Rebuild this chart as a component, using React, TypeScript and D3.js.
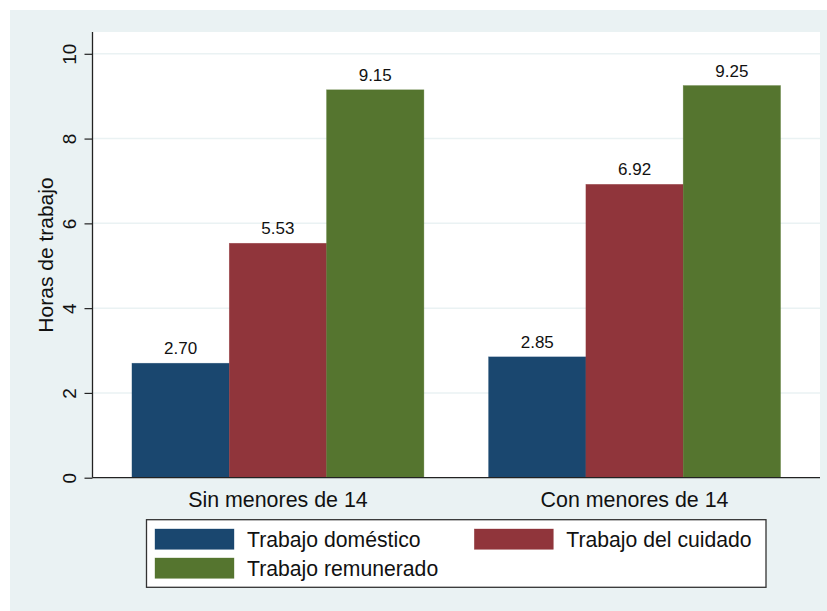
import React, { useRef, useEffect } from 'react';
import { select, scaleBand, scaleLinear, axisLeft } from 'd3';

const groups = ['Sin menores de 14', 'Con menores de 14'];
const seriesKeys = ['Trabajo doméstico', 'Trabajo del cuidado', 'Trabajo remunerado'];
const domestico = [2.7, 2.85];
const cuidado = [5.53, 6.92];
const remunerado = [9.15, 9.25];
const yTicks = [0, 2, 4, 6, 8, 10];
const colors = ['#1a476f', '#90353b', '#55752f'];

const W = 827;
const H = 611;
const FONT = 'Liberation Sans, Arial, sans-serif';

const App = () => {
  const svgRef = useRef<SVGSVGElement>(null);

  useEffect(() => {
    const svg = select(svgRef.current);
    svg.selectAll('*').remove();

    const left = 92.5;
    const right = 820;
    const top = 32;
    const bottom = 477.7;

    const values = [domestico, cuidado, remunerado];
    const rows = groups.map((g, i) => ({
      group: g,
      bars: seriesKeys.map((k, j) => ({ key: k, value: values[j][i], color: colors[j] }))
    }));

    const x0 = scaleBand()
      .domain(groups)
      .range([left, right])
      .paddingInner(0.1815)
      .paddingOuter(0.1107);
    const x1 = scaleBand().domain(seriesKeys).range([0, x0.bandwidth()]);
    const y = scaleLinear().domain([0, 10]).range([bottom, 53.8]);

    // backgrounds
    svg.append('rect').attr('x', 10).attr('y', 10).attr('width', W - 10).attr('height', H - 10)
      .attr('fill', '#eaf2f3');
    svg.append('rect').attr('x', left).attr('y', top).attr('width', right - left)
      .attr('height', bottom - top).attr('fill', '#ffffff');

    // grid
    svg.append('g')
      .selectAll('line')
      .data(yTicks.filter(t => t > 0))
      .join('line')
      .attr('x1', left)
      .attr('x2', right)
      .attr('y1', d => y(d))
      .attr('y2', d => y(d))
      .attr('stroke', '#eaf2f3')
      .attr('stroke-width', 1.5);

    // bars
    const g = svg.append('g')
      .selectAll('g')
      .data(rows)
      .join('g')
      .attr('transform', d => `translate(${x0(d.group)},0)`);

    g.selectAll('rect')
      .data(d => d.bars)
      .join('rect')
      .attr('x', d => x1(d.key))
      .attr('width', x1.bandwidth())
      .attr('y', d => y(d.value))
      .attr('height', d => y(0) - y(d.value))
      .attr('fill', d => d.color)
      .attr('stroke', d => d.color)
      .attr('stroke-opacity', 0.6)
      .attr('stroke-width', 0.6);

    g.selectAll('text')
      .data(d => d.bars)
      .join('text')
      .attr('x', d => x1(d.key) + x1.bandwidth() / 2)
      .attr('y', d => y(d.value) - 9)
      .attr('text-anchor', 'middle')
      .attr('font-family', FONT)
      .attr('font-size', 17)
      .attr('fill', '#111')
      .text(d => d.value.toFixed(2));

    // y axis
    const yAxis = axisLeft(y).tickValues(yTicks).tickSize(8).tickFormat(d => String(d));
    const ya = svg.append('g').attr('transform', `translate(${left},0)`).call(yAxis);
    ya.select('.domain').remove();
    ya.selectAll('.tick line').attr('stroke', '#222').attr('stroke-width', 1.2);
    ya.selectAll('.tick text')
      .attr('x', 0)
      .attr('dy', 0)
      .attr('y', 0)
      .attr('transform', 'translate(-17,0) rotate(-90)')
      .attr('text-anchor', 'middle')
      .attr('font-family', FONT)
      .attr('font-size', 19)
      .attr('fill', '#111');
    svg.append('line').attr('x1', left).attr('x2', left).attr('y1', top).attr('y2', bottom)
      .attr('stroke', '#222').attr('stroke-width', 1.3);

    // x axis line
    svg.append('line').attr('x1', left).attr('x2', right).attr('y1', bottom).attr('y2', bottom)
      .attr('stroke', '#222').attr('stroke-width', 1.3);

    svg.append('g')
      .selectAll('text')
      .data(groups)
      .join('text')
      .attr('x', d => x0(d) + x0.bandwidth() / 2)
      .attr('y', 507.3)
      .attr('text-anchor', 'middle')
      .attr('font-family', FONT)
      .attr('font-size', 21.4)
      .attr('fill', '#111')
      .text(d => d);

    // y title
    svg.append('text')
      .attr('transform', 'translate(53,255) rotate(-90)')
      .attr('text-anchor', 'middle')
      .attr('font-family', FONT)
      .attr('font-size', 21)
      .attr('fill', '#111')
      .text('Horas de trabajo');

    // legend
    const legend = svg.append('g');
    legend.append('rect').attr('x', 146.5).attr('y', 519.7).attr('width', 766 - 146.5)
      .attr('height', 587.3 - 519.7).attr('fill', '#fff').attr('stroke', '#333').attr('stroke-width', 1.3);
    const pos = [
      { x: 155, y: 529 },
      { x: 474.3, y: 529 },
      { x: 155, y: 558 }
    ];
    const items = legend.selectAll('g.item')
      .data(seriesKeys)
      .join('g')
      .attr('class', 'item')
      .attr('transform', (d, i) => `translate(${pos[i].x},${pos[i].y})`);
    items.append('rect')
      .attr('width', 79)
      .attr('height', 20.3)
      .attr('fill', (d, i) => colors[i])
      .attr('stroke', (d, i) => colors[i])
      .attr('stroke-opacity', 0.6)
      .attr('stroke-width', 0.6);
    items.append('text')
      .attr('x', 92)
      .attr('y', 18.3)
      .attr('font-family', FONT)
      .attr('font-size', 21.2)
      .attr('fill', '#111')
      .text(d => d);
  }, []);

  return (
    <svg
      ref={svgRef}
      width={W}
      height={H}
      style={{ position: 'absolute', left: 0, top: 0, background: '#fff' }}
    />
  );
};

export default App;
